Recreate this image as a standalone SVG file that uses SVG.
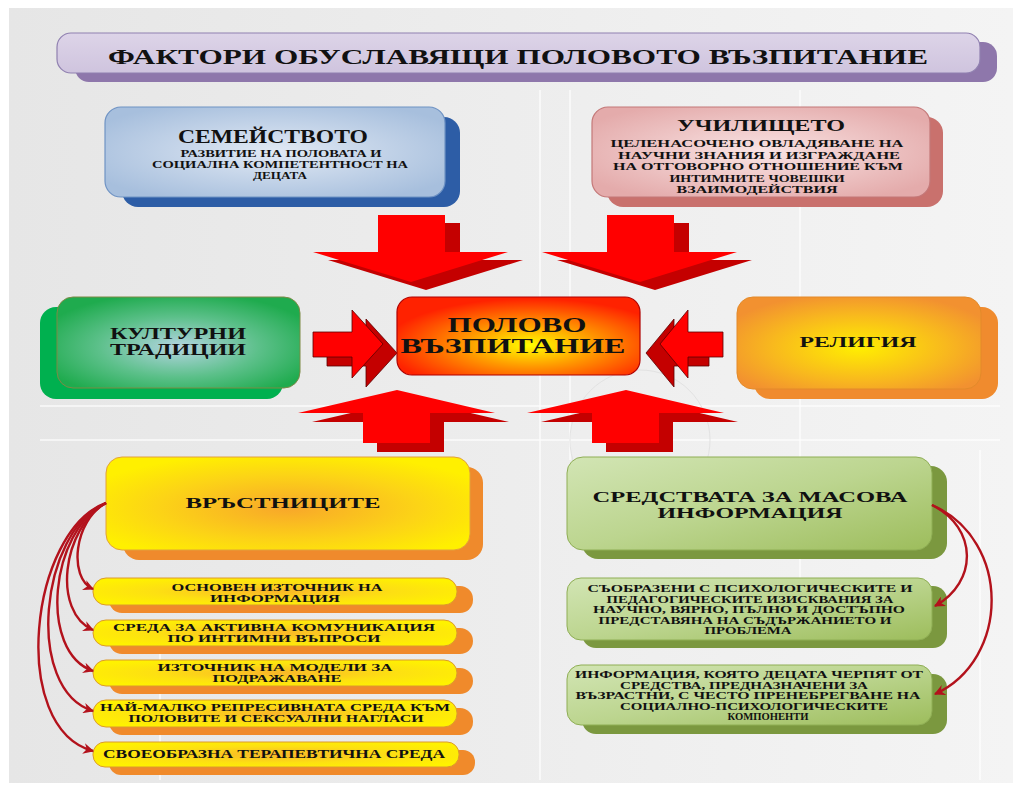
<svg xmlns="http://www.w3.org/2000/svg" width="1021" height="801" viewBox="0 0 1021 801">
<defs>
<linearGradient id="bg" x1="0" y1="0" x2="1" y2="0"><stop offset="0" stop-color="#e6e6e6"/><stop offset="1" stop-color="#f4f4f4"/></linearGradient>
<linearGradient id="gTitle" x1="0" y1="0" x2="0" y2="1"><stop offset="0" stop-color="#ddd4e8"/><stop offset="1" stop-color="#cfc4de"/></linearGradient>
<radialGradient id="gBlue" cx="0.5" cy="0.5" r="0.6"><stop offset="0" stop-color="#e1e9f4"/><stop offset="1" stop-color="#a7bfdd"/></radialGradient>
<radialGradient id="gPink" cx="0.5" cy="0.5" r="0.6"><stop offset="0" stop-color="#f9e4e4"/><stop offset="1" stop-color="#e4abab"/></radialGradient>
<radialGradient id="gCenter" cx="0.55" cy="0.62" r="0.6"><stop offset="0" stop-color="#ffff00"/><stop offset="0.45" stop-color="#ff9900"/><stop offset="1" stop-color="#ff2200"/></radialGradient>
<radialGradient id="gGreen" cx="0.5" cy="0.55" r="0.6"><stop offset="0" stop-color="#b4d4e2"/><stop offset="0.55" stop-color="#5cc08a"/><stop offset="1" stop-color="#1fab4e"/></radialGradient>
<radialGradient id="gOrange" cx="0.5" cy="0.55" r="0.6"><stop offset="0" stop-color="#ffef00"/><stop offset="0.6" stop-color="#f8b81e"/><stop offset="1" stop-color="#f29130"/></radialGradient>
<radialGradient id="gYellow" cx="0.5" cy="0.55" r="0.6"><stop offset="0" stop-color="#f8a72a"/><stop offset="0.6" stop-color="#fcd416"/><stop offset="1" stop-color="#fff000"/></radialGradient>
<radialGradient id="gItem" cx="0.5" cy="0.5" r="0.6"><stop offset="0" stop-color="#f9b62a"/><stop offset="0.55" stop-color="#fde012"/><stop offset="1" stop-color="#fff200"/></radialGradient>
<linearGradient id="gLime" x1="0" y1="0" x2="1" y2="1"><stop offset="0" stop-color="#d2e5b4"/><stop offset="0.5" stop-color="#bcd58f"/><stop offset="1" stop-color="#9dbd5c"/></linearGradient>
<marker id="ah" viewBox="0 0 10 10" refX="9" refY="5" markerWidth="4.5" markerHeight="4.5" orient="auto" markerUnits="strokeWidth"><path d="M0,0 L10,5 L0,10 L3,5 Z" fill="#b3121c"/></marker>
<style>
text{font-family:"Liberation Serif","Times New Roman",serif;font-weight:bold;fill:#111;text-anchor:middle}
.t11{font-size:10px}.t12{font-size:10.5px}.t13{font-size:12px}
.conn{fill:none;stroke:#b3121c;stroke-width:2.4;marker-end:url(#ah)}
.arF{fill:#ff0000}.arS{fill:#c40000}
.side{stroke:#5a0000;stroke-width:0.8}
.gl{stroke:#ffffff;stroke-width:1.5;opacity:0.8;fill:none}
</style>
</defs>
<rect x="0" y="0" width="1021" height="801" fill="#ffffff"/>
<rect x="9" y="8" width="1004" height="775" fill="url(#bg)"/>
<g id="background">
<path class="gl" d="M540 90V780M570 90V460M800 90V620M40 406H1000M40 440H1000M160 620V780M980 450V780"/>
<circle cx="640" cy="440" r="70" fill="none" stroke="#e2e2e2" stroke-width="1"/>
</g>

<g id="title">
<rect x="75" y="42" width="922" height="40" rx="14" fill="#8e77ab"/>
<rect x="57" y="33" width="923" height="40" rx="14" fill="url(#gTitle)" stroke="#9080b0" stroke-width="1.2"/>
<text x="518" y="64" style="font-size:22px" textLength="820" lengthAdjust="spacingAndGlyphs">ФАКТОРИ ОБУСЛАВЯЩИ ПОЛОВОТО ВЪЗПИТАНИЕ</text>
</g>

<g id="semeystvo">
<rect x="122" y="117" width="338" height="90" rx="16" fill="#2d5da6"/>
<rect x="105" y="107" width="340" height="90" rx="16" fill="url(#gBlue)" stroke="#6f93c4" stroke-width="1.2"/>
<text x="273" y="143" style="font-size:18px" textLength="190" lengthAdjust="spacingAndGlyphs">СЕМЕЙСТВОТО</text>
<text class="t12" x="281" y="157" textLength="201" lengthAdjust="spacingAndGlyphs">РАЗВИТИЕ НА ПОЛОВАТА И</text>
<text class="t12" x="280" y="168" textLength="256" lengthAdjust="spacingAndGlyphs">СОЦИАЛНА КОМПЕТЕНТНОСТ НА</text>
<text class="t12" x="280" y="179" textLength="54" lengthAdjust="spacingAndGlyphs">ДЕЦАТА</text>
</g>

<g id="uchilishte">
<rect x="607" y="117" width="336" height="90" rx="16" fill="#c9716d"/>
<rect x="592" y="107" width="338" height="90" rx="16" fill="url(#gPink)" stroke="#c47878" stroke-width="1.2"/>
<text x="761" y="131" style="font-size:17px" textLength="168" lengthAdjust="spacingAndGlyphs">УЧИЛИЩЕТО</text>
<text class="t12" x="757" y="147" textLength="293" lengthAdjust="spacingAndGlyphs">ЦЕЛЕНАСОЧЕНО ОВЛАДЯВАНЕ НА</text>
<text class="t12" x="759" y="158.5" textLength="282" lengthAdjust="spacingAndGlyphs">НАУЧНИ ЗНАНИЯ И ИЗГРАЖДАНЕ</text>
<text class="t12" x="758" y="170" textLength="290" lengthAdjust="spacingAndGlyphs">НА ОТГОВОРНО ОТНОШЕНИЕ КЪМ</text>
<text class="t12" x="757" y="181.5" textLength="175" lengthAdjust="spacingAndGlyphs">ИНТИМНИТЕ ЧОВЕШКИ</text>
<text class="t12" x="757" y="193" textLength="161" lengthAdjust="spacingAndGlyphs">ВЗАИМОДЕЙСТВИЯ</text>
</g>

<g id="arrows">
<polygon class="arS" points="393,223 460,223 460,260 523,260 426,290 328,260 393,260"/>
<polygon class="arF" points="378,215 445,215 445,252 508,252 411,282 313,252 378,252"/>
<polygon class="arS" points="622,223 689,223 689,260 752,260 655,290 557,260 622,260"/>
<polygon class="arF" points="607,215 674,215 674,252 737,252 640,282 542,252 607,252"/>
<polygon class="arS" points="377,452 444,452 444,422 509,422 411,399 312,422 377,422"/>
<polygon class="arF" points="363,443 430,443 430,413 495,413 397,390 298,413 363,413"/>
<polygon class="arS" points="606,452 673,452 673,422 738,422 640,399 541,422 606,422"/>
<polygon class="arF" points="592,443 659,443 659,413 724,413 626,390 527,413 592,413"/>
<polygon class="arS side" points="327,341 366,341 366,319 397,353 366,387 366,366 327,366"/>
<polygon class="arF side" points="313,332 352,332 352,310 383,344 352,378 352,357 313,357"/>
<polygon class="arS side" points="709,341 674,341 674,319 646,353 674,387 674,366 709,366"/>
<polygon class="arF side" points="723,332 688,332 688,310 660,344 688,378 688,357 723,357"/>
</g>

<g id="polovo">
<rect x="397" y="297" width="243" height="78" rx="15" fill="url(#gCenter)" stroke="#b00000" stroke-width="1.2"/>
<text x="517" y="332" style="font-size:20px" textLength="139" lengthAdjust="spacingAndGlyphs">ПОЛОВО</text>
<text x="513" y="353" style="font-size:20px" textLength="225" lengthAdjust="spacingAndGlyphs">ВЪЗПИТАНИЕ</text>
</g>

<g id="kulturni">
<rect x="40" y="307" width="243" height="92" rx="16" fill="#00b04f"/>
<rect x="57" y="297" width="243" height="91" rx="16" fill="url(#gGreen)" stroke="#7d8a45" stroke-width="1"/>
<text x="178" y="339" style="font-size:16px" textLength="136" lengthAdjust="spacingAndGlyphs">КУЛТУРНИ</text>
<text x="178" y="355" style="font-size:16px" textLength="136" lengthAdjust="spacingAndGlyphs">ТРАДИЦИИ</text>
</g>

<g id="religia">
<rect x="754" y="307" width="244" height="92" rx="16" fill="#f08b2e"/>
<rect x="737" y="297" width="244" height="92" rx="16" fill="url(#gOrange)" stroke="#e38a2a" stroke-width="1"/>
<text x="858" y="347" style="font-size:15px" textLength="117" lengthAdjust="spacingAndGlyphs">РЕЛИГИЯ</text>
</g>

<g id="vrastnitsite">
<rect x="123" y="467" width="360" height="93" rx="16" fill="#ef8a2c"/>
<rect x="106" y="457" width="364" height="93" rx="16" fill="url(#gYellow)" stroke="#e3a03a" stroke-width="1"/>
<text x="283" y="508" style="font-size:15px" textLength="195" lengthAdjust="spacingAndGlyphs">ВРЪСТНИЦИТЕ</text>
</g>

<g id="item1">
<rect x="109" y="586" width="364" height="27" rx="13" fill="#f08a2b"/>
<rect x="93" y="578" width="364" height="27" rx="13" fill="url(#gItem)" stroke="#dc9a2c" stroke-width="1"/>
<text class="t11" x="277" y="591" textLength="211" lengthAdjust="spacingAndGlyphs">ОСНОВЕН ИЗТОЧНИК НА</text>
<text class="t11" x="275" y="601.5" textLength="130" lengthAdjust="spacingAndGlyphs">ИНФОРМАЦИЯ</text>
</g>
<g id="item2">
<rect x="109" y="628" width="364" height="26" rx="13" fill="#f08a2b"/>
<rect x="93" y="620" width="364" height="26" rx="13" fill="url(#gItem)" stroke="#dc9a2c" stroke-width="1"/>
<text class="t11" x="274" y="631" textLength="322" lengthAdjust="spacingAndGlyphs">СРЕДА ЗА АКТИВНА КОМУНИКАЦИЯ</text>
<text class="t11" x="274" y="642" textLength="213" lengthAdjust="spacingAndGlyphs">ПО ИНТИМНИ ВЪПРОСИ</text>
</g>
<g id="item3">
<rect x="109" y="668" width="364" height="26" rx="13" fill="#f08a2b"/>
<rect x="93" y="660" width="364" height="26" rx="13" fill="url(#gItem)" stroke="#dc9a2c" stroke-width="1"/>
<text class="t11" x="275" y="671" textLength="235" lengthAdjust="spacingAndGlyphs">ИЗТОЧНИК НА МОДЕЛИ ЗА</text>
<text class="t11" x="277" y="682" textLength="129" lengthAdjust="spacingAndGlyphs">ПОДРАЖАВАНЕ</text>
</g>
<g id="item4">
<rect x="109" y="708" width="364" height="27" rx="13" fill="#f08a2b"/>
<rect x="93" y="700" width="364" height="27" rx="13" fill="url(#gItem)" stroke="#dc9a2c" stroke-width="1"/>
<text class="t11" x="275" y="711" textLength="350" lengthAdjust="spacingAndGlyphs">НАЙ-МАЛКО РЕПРЕСИВНАТА СРЕДА КЪМ</text>
<text class="t11" x="276" y="722" textLength="295" lengthAdjust="spacingAndGlyphs">ПОЛОВИТЕ И СЕКСУАЛНИ НАГЛАСИ</text>
</g>
<g id="item5">
<rect x="109" y="750" width="366" height="25" rx="12" fill="#f08a2b"/>
<rect x="93" y="742" width="366" height="25" rx="12" fill="url(#gItem)" stroke="#dc9a2c" stroke-width="1"/>
<text class="t13" x="274" y="758" textLength="342" lengthAdjust="spacingAndGlyphs">СВОЕОБРАЗНА ТЕРАПЕВТИЧНА СРЕДА</text>
</g>

<g id="smi">
<rect x="582" y="466" width="365" height="93" rx="16" fill="#7b983f"/>
<rect x="567" y="457" width="365" height="93" rx="16" fill="url(#gLime)" stroke="#8fae55" stroke-width="1"/>
<text x="750" y="502" style="font-size:15px" textLength="315" lengthAdjust="spacingAndGlyphs">СРЕДСТВАТА ЗА МАСОВА</text>
<text x="750" y="518" style="font-size:15px" textLength="185" lengthAdjust="spacingAndGlyphs">ИНФОРМАЦИЯ</text>
</g>

<g id="smi1">
<rect x="582" y="586" width="365" height="62" rx="14" fill="#7b983f"/>
<rect x="567" y="578" width="365" height="62" rx="14" fill="url(#gLime)" stroke="#8fae55" stroke-width="1"/>
<text class="t11" x="750" y="592" textLength="325" lengthAdjust="spacingAndGlyphs">СЪОБРАЗЕНИ С ПСИХОЛОГИЧЕСКИТЕ И</text>
<text class="t11" x="750" y="602.5" textLength="287" lengthAdjust="spacingAndGlyphs">ПЕДАГОГИЧЕСКИТЕ ИЗИСКВАНИЯ ЗА</text>
<text class="t11" x="749" y="613" textLength="312" lengthAdjust="spacingAndGlyphs">НАУЧНО, ВЯРНО, ПЪЛНО И ДОСТЪПНО</text>
<text class="t11" x="745" y="623.5" textLength="293" lengthAdjust="spacingAndGlyphs">ПРЕДСТАВЯНА НА СЪДЪРЖАНИЕТО И</text>
<text class="t11" x="748" y="634" textLength="87" lengthAdjust="spacingAndGlyphs">ПРОБЛЕМА</text>
</g>

<g id="smi2">
<rect x="582" y="674" width="365" height="60" rx="14" fill="#7b983f"/>
<rect x="567" y="665" width="365" height="60" rx="14" fill="url(#gLime)" stroke="#8fae55" stroke-width="1"/>
<text class="t11" x="749" y="678" textLength="348" lengthAdjust="spacingAndGlyphs">ИНФОРМАЦИЯ, КОЯТО ДЕЦАТА ЧЕРПЯТ ОТ</text>
<text class="t11" x="744" y="688.5" textLength="248" lengthAdjust="spacingAndGlyphs">СРЕДСТВА, ПРЕДНАЗНАЧЕНИ ЗА</text>
<text class="t11" x="748" y="699" textLength="345" lengthAdjust="spacingAndGlyphs">ВЪЗРАСТНИ, С ЧЕСТО ПРЕНЕБРЕГВАНЕ НА</text>
<text class="t11" x="754" y="709.5" textLength="268" lengthAdjust="spacingAndGlyphs">СОЦИАЛНО-ПСИХОЛОГИЧЕСКИТЕ</text>
<text class="t11" x="768" y="720" textLength="81" lengthAdjust="spacingAndGlyphs">КОМПОНЕНТИ</text>
</g>

<g id="connectors">
<path class="conn" d="M106,503 C74,520 68,578 93,589"/>
<path class="conn" d="M106,503 C62,528 52,612 93,630"/>
<path class="conn" d="M106,503 C50,530 38,652 93,671"/>
<path class="conn" d="M106,503 C40,530 24,690 93,711"/>
<path class="conn" d="M106,503 C30,530 8,728 93,751"/>
<path class="conn" d="M932,505 C978,528 978,582 935,606"/>
<path class="conn" d="M932,505 C1012,540 1010,660 935,694"/>
</g>
</svg>
